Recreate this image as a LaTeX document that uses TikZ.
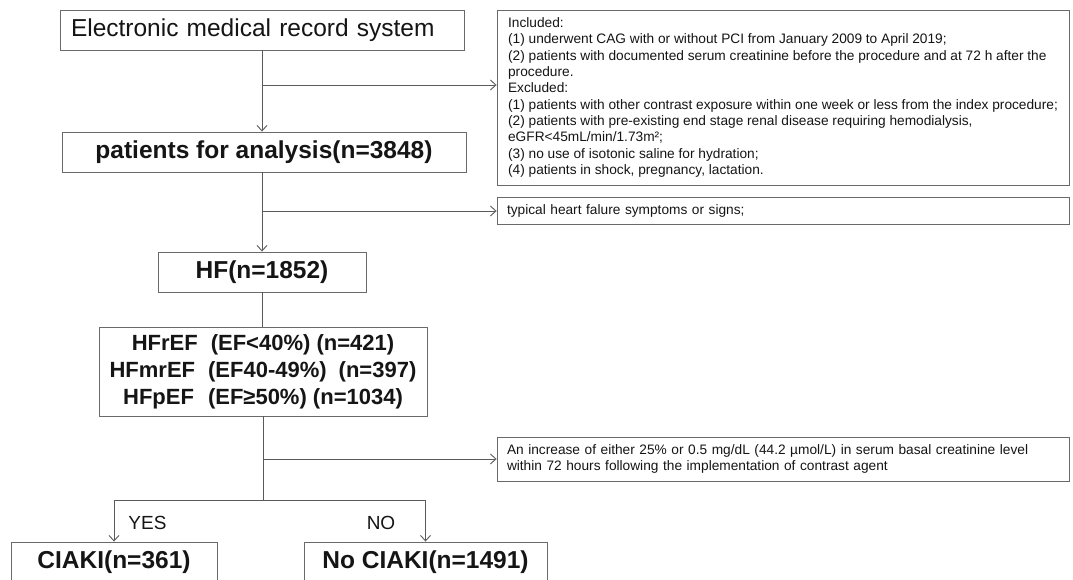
\documentclass[tikz,border=0pt]{standalone}
\usepackage{fontspec}
\setmainfont{Liberation Sans}
\usetikzlibrary{arrows.meta}
\definecolor{linegray}{HTML}{5A5A5A}
\definecolor{boxgray}{HTML}{6A6A6A}
\definecolor{ink}{HTML}{151515}
\begin{document}
\begin{tikzpicture}[x=1pt,y=-1pt,
  box/.style={draw=boxgray, line width=0.9pt, text=ink, inner sep=0pt},
  bigtxt/.style={font=\fontsize{24.5}{28}\selectfont\bfseries},
  smalltxt/.style={font=\fontsize{13.7}{16.3}\selectfont},
  link/.style={draw=linegray, line width=0.9pt},
  arr/.style={link, -{Straight Barb[length=5.5pt,width=10pt,line width=0.9pt]}},
  lbl/.style={text=ink, font=\fontsize{19}{22}\selectfont, inner sep=0pt}]
\clip (0,0) rectangle (1073,580);
\fill[white] (0,0) rectangle (1073,580);

% main column
\node[box, minimum width=404pt, minimum height=40pt, text width=382pt, inner xsep=11pt, align=left,
      font=\fontsize{24.5}{28}\selectfont] (emr) at (262,30) {Electronic medical record system};
\node[box, bigtxt, minimum width=404pt, minimum height=40pt] (pa) at (264,152) {patients for analysis(n=3848)};
\node[box, bigtxt, minimum width=208pt, minimum height=40pt] (hf) at (262,272) {HF(n=1852)};
\node[box, minimum width=328pt, minimum height=89pt, align=center,
      font=\fontsize{22}{27}\selectfont\bfseries] (ef) at (263,371.5)
  {HFrEF\hspace{13pt}(EF<40\%) (n=421)\\
   HFmrEF\hspace{13pt}(EF40-49\%)\hspace{12pt}(n=397)\\
   HFpEF\hspace{14pt}(EF≥50\%) (n=1034)};
\node[box, bigtxt, minimum width=206pt, minimum height=40pt] (ciaki) at (114,562) {CIAKI(n=361)};
\node[box, bigtxt, minimum width=243pt, minimum height=40pt] (nociaki) at (425.5,562) {No CIAKI(n=1491)};

% side notes
\node[box, smalltxt, minimum width=572pt, minimum height=175pt, inner xsep=4pt, align=left] (incl) at (783,97.5)
  {Included:\\
   (1) underwent CAG with or without PCI from January 2009 to April 2019;\\
   (2) patients with documented serum creatinine before the procedure and at 72 h after the\\
   procedure.\\
   Excluded:\\
   (1) patients with other contrast exposure within one week or less from the index procedure;\\
   (2) patients with pre-existing end stage renal disease requiring hemodialysis,\\
   eGFR<45mL/min/1.73m²;\\
   (3) no use of isotonic saline for hydration;\\
   (4) patients in shock, pregnancy, lactation.};
\node[box, smalltxt, minimum width=572pt, minimum height=27pt, text width=552pt, inner xsep=10pt, align=left] (typ) at (783,210.5)
  {typical heart falure symptoms or signs;};
\node[box, smalltxt, minimum width=572pt, minimum height=44pt, text width=552pt, inner xsep=10pt, align=left] (crit) at (783,459)
  {An increase of either 25\% or 0.5 mg/dL (44.2 µmol/L) in serum basal creatinine level\\
   within 72 hours following the implementation of contrast agent};

% branch points
\coordinate (c1) at (262,85);
\coordinate (c2) at (262,211);
\coordinate (c3) at (263,459);
\coordinate (c4) at (263,500);

% connectors
\draw[arr] (emr.south) -- (emr.south |- pa.north);
\draw[arr] (c1) -- (c1 -| incl.west);
\draw[arr] (hf.north |- pa.south) -- (hf.north);
\draw[arr] (c2) -- (c2 -| typ.west);
\draw[link] (hf.south) -- (hf.south |- ef.north);
\draw[link] (ef.south) -- (c4);
\draw[arr] (c3) -- (crit.west);
\draw[arr] (c4) -| (ciaki.north);
\draw[arr] (c4) -| (nociaki.north);

% labels
\node[lbl] (yes) at (147.5,523) {YES};
\node[lbl] (no) at (381,523) {NO};
\end{tikzpicture}
\end{document}
